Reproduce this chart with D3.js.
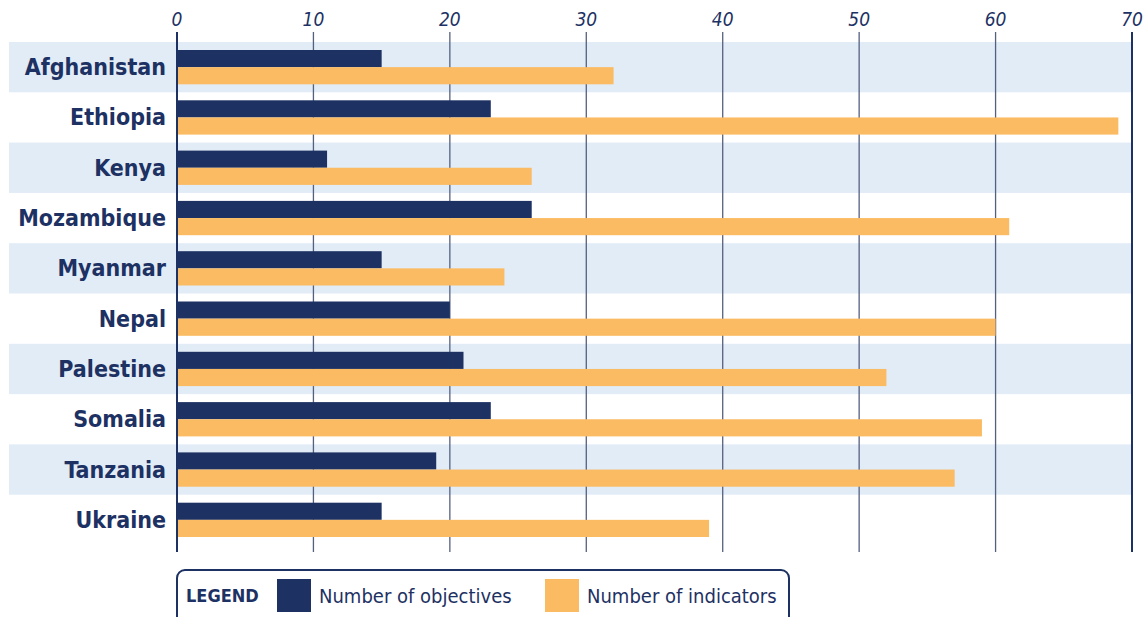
<!DOCTYPE html>
<html>
<head>
<meta charset="utf-8">
<script src="https://cdn.jsdelivr.net/npm/d3@7"></script>
<style>
  html, body { margin: 0; padding: 0; background: #fff; }
  svg { display: block; }
</style>
</head>
<body>
<svg id="chart" width="1146" height="617"></svg>
<script>
(function () {
  'use strict';

  var countries = ['Afghanistan', 'Ethiopia', 'Kenya', 'Mozambique', 'Myanmar',
    'Nepal', 'Palestine', 'Somalia', 'Tanzania', 'Ukraine'];
  var objectives = [15, 23, 11, 26, 15, 20, 21, 23, 19, 15];
  var indicators = [32, 69, 26, 61, 24, 60, 52, 59, 57, 39];
  var ticks = [0, 10, 20, 30, 40, 50, 60, 70];
  var seriesNames = ['Number of objectives', 'Number of indicators'];

  var NAVY = '#1d3163';
  var ORANGE = '#fbbb62';
  var BAND = '#e1ecf7';
  var FONT = '"DejaVu Sans Condensed", "DejaVu Sans", sans-serif';

  var svg = d3.select('#chart');
  var x = d3.scaleLinear().domain([0, 70]).range([177, 1132]);
  var y = d3.scaleBand().domain(countries).range([42, 545]);
  var inner = d3.scaleBand().domain(['obj', 'ind']).range([8, y.bandwidth() - 8]);

  // Alternating row bands
  svg.append('g').selectAll('rect')
    .data(countries.filter(function (d, i) { return i % 2 === 0; }))
    .enter().append('rect')
    .attr('x', 9)
    .attr('y', function (d) { return y(d); })
    .attr('width', x(70) - 9)
    .attr('height', y.bandwidth())
    .attr('fill', BAND);

  // Grid lines
  svg.append('g').selectAll('line')
    .data(ticks)
    .enter().append('line')
    .attr('x1', function (d) { return x(d); })
    .attr('x2', function (d) { return x(d); })
    .attr('y1', 32)
    .attr('y2', 552)
    .attr('stroke', function (d) { return d === 0 || d === 70 ? NAVY : '#55607f'; })
    .attr('stroke-width', function (d) { return d === 0 || d === 70 ? 2 : 1.3; });

  // Tick labels
  svg.append('g').selectAll('text')
    .data(ticks)
    .enter().append('text')
    .attr('x', function (d) { return x(d); })
    .attr('y', 26)
    .attr('text-anchor', 'middle')
    .style('font-family', FONT)
    .style('font-style', 'italic')
    .style('font-size', '19px')
    .style('fill', NAVY)
    .text(function (d) { return d; });

  // Bars
  var rows = svg.append('g').selectAll('g')
    .data(countries)
    .enter().append('g')
    .attr('transform', function (d) { return 'translate(0,' + y(d) + ')'; });

  rows.append('rect')
    .attr('x', x(0))
    .attr('y', inner('obj'))
    .attr('width', function (d, i) { return x(objectives[i]) - x(0); })
    .attr('height', inner.bandwidth())
    .attr('fill', NAVY);

  rows.append('rect')
    .attr('x', x(0) + 1)
    .attr('y', inner('ind'))
    .attr('width', function (d, i) { return x(indicators[i]) - x(0) - 1; })
    .attr('height', inner.bandwidth())
    .attr('fill', ORANGE);

  // Country labels
  rows.append('text')
    .attr('x', 166)
    .attr('y', y.bandwidth() / 2)
    .attr('dy', '0.35em')
    .attr('text-anchor', 'end')
    .style('font-family', FONT)
    .style('font-weight', 'bold')
    .style('font-size', '23px')
    .style('fill', NAVY)
    .text(function (d) { return d; });

  // Legend
  var legend = svg.append('g');
  legend.append('rect')
    .attr('x', 177)
    .attr('y', 570)
    .attr('width', 612)
    .attr('height', 60)
    .attr('rx', 8)
    .attr('fill', '#fff')
    .attr('stroke', NAVY)
    .attr('stroke-width', 2);
  legend.append('text')
    .attr('x', 186)
    .attr('y', 596)
    .attr('dy', '0.35em')
    .style('font-family', FONT)
    .style('font-weight', 'bold')
    .style('font-size', '18px')
    .style('fill', NAVY)
    .text('LEGEND');

  var items = [
    { name: seriesNames[0], color: NAVY, x: 277 },
    { name: seriesNames[1], color: ORANGE, x: 545 }
  ];
  items.forEach(function (it) {
    legend.append('rect')
      .attr('x', it.x)
      .attr('y', 579)
      .attr('width', 34)
      .attr('height', 33)
      .attr('fill', it.color);
    legend.append('text')
      .attr('x', it.x + 42)
      .attr('y', 596)
      .attr('dy', '0.35em')
      .style('font-family', FONT)
      .style('font-size', '20px')
      .style('fill', NAVY)
      .text(it.name);
  });
})();
</script>
</body>
</html>
